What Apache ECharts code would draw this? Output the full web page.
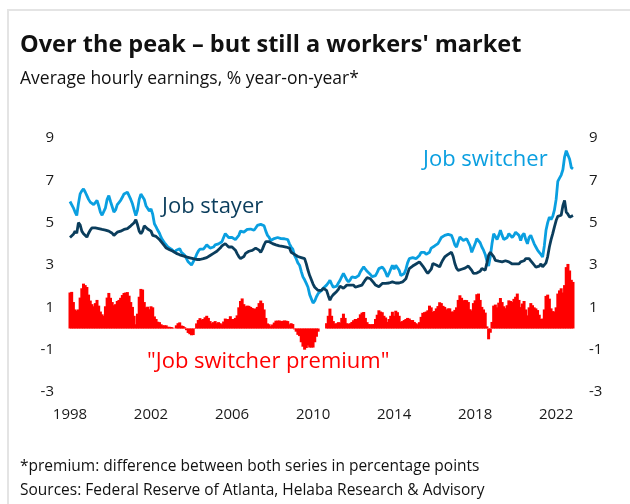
<!DOCTYPE html>
<html>
<head>
<meta charset="utf-8">
<script src="https://cdn.jsdelivr.net/npm/echarts@6/dist/echarts.min.js"></script>
<style>
  html, body { margin: 0; padding: 0; background: #fff; }
  #chart { width: 630px; height: 504px; }
</style>
</head>
<body>
<div id="chart"></div>
<script>
// monthly, Jan 1998 .. Nov 2022, % yoy (3m avg), one row per year
const switcher = [
  6.0, 6.05, 5.7, 5.5, 5.34, 5.9, 6.36, 6.5, 6.6, 6.45, 6.28, 6.1,
  5.97, 5.9, 5.85, 5.95, 6.05, 5.8, 5.5, 5.35, 5.26, 5.7, 6.1, 6.28,
  6.0, 5.75, 5.5, 5.6, 5.85, 5.95, 6.05, 6.2, 6.36, 6.4, 6.44, 6.35,
  6.1, 5.89, 5.6, 5.34, 5.6, 6.1, 6.35, 6.44, 6.1, 5.8, 5.73, 5.55,
  5.65, 5.4, 4.95, 4.8, 4.64, 4.5, 4.3, 4.16, 4.05, 3.95, 3.85, 3.8,
  3.75, 3.69, 3.6, 3.7, 3.75, 3.77, 3.6, 3.55, 3.46, 3.3, 3.15, 3.07,
  3.0, 2.99, 3.3, 3.5, 3.65, 3.75, 3.7, 3.75, 3.85, 3.95, 3.9, 3.8,
  3.75, 3.85, 3.95, 3.9, 4.0, 4.05, 4.1, 4.3, 4.48, 4.4, 4.3, 4.35,
  4.3, 4.25, 4.2, 4.16, 4.4, 4.6, 4.64, 4.55, 4.6, 4.68, 4.72, 4.7,
  4.66, 4.64, 4.75, 4.87, 4.9, 4.92, 4.95, 4.85, 4.6, 4.4, 4.3, 4.16,
  4.2, 4.25, 4.32, 4.3, 4.28, 4.25, 4.24, 4.24, 4.22, 4.2, 4.0, 3.85,
  3.75, 3.46, 3.3, 3.1, 2.99, 2.7, 2.44, 2.3, 2.13, 1.95, 1.6, 1.4,
  1.2, 1.3, 1.5, 1.65, 1.73, 1.8, 1.9, 1.97, 2.05, 2.15, 2.28, 2.1,
  1.95, 1.89, 2.0, 2.15, 2.28, 2.45, 2.6, 2.45, 2.3, 2.2, 2.3, 2.44,
  2.44, 2.4, 2.35, 2.5, 2.67, 2.8, 2.91, 2.8, 2.7, 2.65, 2.55, 2.45,
  2.36, 2.5, 2.65, 2.83, 2.85, 2.9, 2.8, 2.65, 2.44, 2.6, 2.8, 2.99,
  2.8, 2.99, 2.9, 2.75, 2.5, 2.55, 2.6, 2.8, 3.1, 3.3, 3.3, 3.35,
  3.3, 3.3, 3.3, 3.45, 3.6, 3.69, 3.6, 3.5, 3.46, 3.6, 3.8, 3.85,
  3.9, 3.95, 4.01, 4.15, 4.3, 4.32, 4.4, 4.35, 4.45, 4.5, 4.4, 4.2,
  3.95, 3.85, 4.1, 4.32, 4.25, 4.16, 4.2, 4.24, 4.2, 3.9, 3.6, 3.8,
  4.0, 4.24, 4.2, 4.05, 3.85, 3.7, 3.5, 3.2, 2.95, 3.4, 4.0, 4.48,
  4.35, 4.2, 4.4, 4.64, 4.4, 4.2, 4.16, 4.3, 4.48, 4.4, 4.3, 4.4,
  4.55, 4.64, 4.4, 4.16, 4.4, 4.5, 4.2, 4.0, 4.3, 4.4, 4.2, 4.0,
  3.85, 3.7, 3.6, 3.5, 3.38, 3.9, 4.64, 5.0, 5.26, 5.15, 5.3, 5.6,
  6.1, 6.95, 7.1, 7.25, 7.5, 8.1, 8.4, 8.45, 8.0, 7.6, 7.54
];
const stayer = [
  4.3, 4.32, 4.45, 4.6, 4.5, 5.0, 4.9, 4.6, 4.48, 4.4, 4.32, 4.5,
  4.65, 4.75, 4.8, 4.75, 4.7, 4.72, 4.7, 4.68, 4.66, 4.65, 4.64, 4.6,
  4.55, 4.5, 4.4, 4.45, 4.55, 4.6, 4.6, 4.62, 4.68, 4.7, 4.72, 4.8,
  4.85, 4.87, 5.0, 5.14, 4.9, 4.6, 4.48, 4.6, 4.85, 4.8, 4.7, 4.64,
  4.6, 4.4, 4.38, 4.35, 4.32, 4.2, 4.1, 4.01, 3.9, 3.8, 3.77, 3.72,
  3.68, 3.65, 3.6, 3.55, 3.5, 3.48, 3.46, 3.43, 3.4, 3.38, 3.36, 3.34,
  3.32, 3.3, 3.28, 3.26, 3.25, 3.26, 3.28, 3.3, 3.32, 3.35, 3.4, 3.45,
  3.5, 3.55, 3.6, 3.65, 3.7, 3.8, 3.9, 3.97, 4.01, 3.95, 3.85, 3.77,
  3.85, 3.8, 3.7, 3.54, 3.4, 3.3, 3.22, 3.4, 3.55, 3.6, 3.65, 3.68,
  3.69, 3.72, 3.8, 3.85, 3.7, 3.6, 3.75, 3.95, 4.1, 4.16, 4.1, 4.05,
  4.01, 3.97, 3.95, 3.93, 3.9, 3.9, 3.88, 3.86, 3.85, 3.85, 3.8, 3.6,
  3.54, 3.5, 3.45, 3.4, 3.35, 3.35, 3.3, 3.3, 3.05, 2.75, 2.5, 2.3,
  2.1, 1.95, 1.89, 1.8, 1.73, 1.8, 1.9, 1.97, 1.8, 1.55, 1.34, 1.5,
  1.6, 1.66, 1.75, 1.85, 2.0, 1.95, 1.9, 1.95, 2.05, 1.98, 2.05, 2.13,
  2.05, 1.95, 1.9, 2.0, 2.0, 2.05, 2.13, 2.3, 2.4, 2.44, 2.35, 2.25,
  2.15, 2.05, 2.0, 1.97, 2.05, 2.13, 2.2, 2.13, 2.13, 2.15, 2.2, 2.2,
  2.2, 2.15, 2.13, 2.15, 2.18, 2.2, 2.2, 2.35, 2.6, 2.83, 2.9, 2.95,
  2.99, 3.05, 3.1, 3.15, 3.05, 2.95, 2.83, 2.7, 2.6, 2.52, 2.8, 3.07,
  3.07, 3.0, 2.95, 2.91, 3.1, 3.25, 3.38, 3.45, 3.5, 3.55, 3.6, 3.4,
  3.07, 2.85, 2.75, 2.75, 2.8, 2.83, 2.85, 2.9, 2.95, 2.99, 2.75, 2.6,
  2.67, 2.62, 2.55, 2.7, 2.83, 2.8, 2.75, 3.1, 3.46, 3.6, 3.69, 3.4,
  3.22, 3.2, 3.18, 3.2, 3.15, 3.15, 3.2, 3.2, 3.15, 3.1, 3.05, 3.0,
  3.05, 2.99, 3.05, 3.15, 3.22, 3.2, 3.3, 3.38, 3.3, 3.2, 3.1, 3.0,
  2.9, 2.83, 2.95, 3.05, 2.91, 3.0, 3.1, 3.4, 3.85, 4.2, 4.48, 4.8,
  5.1, 5.3, 5.3, 5.35, 5.8, 6.05, 5.5, 5.4, 5.26, 5.3, 5.34
];
const startYear = 1998;
const yearLabels = ['1998', '2002', '2006', '2010', '2014', '2018', '2022'];
const yTicks = [-3, -1, 1, 3, 5, 7, 9];

// month categories
const months = [];
for (let i = 0; i < switcher.length; i++) {
  const y = startYear + Math.floor(i / 12);
  const m = (i % 12) + 1;
  months.push(y + '-' + (m < 10 ? '0' + m : m));
}
// premium = switcher minus stayer (percentage points)
const premium = switcher.map((v, i) => +(v - stayer[i]).toFixed(2));

const FONT = 'Open Sans';
const DARK = '#0b3d5c';
const LIGHT = '#0a9fe0';
const RED = '#ff0000';

const chart = echarts.init(document.getElementById('chart'), null, { renderer: 'canvas' });

const yAxisCommon = {
  type: 'value',
  min: yTicks[0],
  max: yTicks[yTicks.length - 1],
  interval: 2,
  splitLine: { show: false },
  axisLine: { show: false },
  axisTick: { show: false },
  axisLabel: { color: '#1a1a1a', fontSize: 15, fontFamily: FONT, margin: 16 }
};

chart.setOption({
  animation: false,
  backgroundColor: '#fff',
  grid: { left: 70, right: 57, top: 138, bottom: 112 },
  xAxis: {
    type: 'category',
    data: months,
    boundaryGap: false,
    axisLine: { show: false },
    axisTick: { show: false },
    splitLine: { show: false },
    axisLabel: {
      color: '#1a1a1a', fontSize: 15, fontFamily: FONT, margin: 15,
      interval: (idx, val) => yearLabels.indexOf(val.slice(0, 4)) >= 0 && val.slice(5) === '01',
      formatter: val => val.slice(0, 4)
    }
  },
  yAxis: [
    Object.assign({ position: 'left' }, yAxisCommon),
    Object.assign({ position: 'right' }, yAxisCommon)
  ],
  series: [
    {
      name: 'Job switcher premium', type: 'bar', data: premium,
      barWidth: 3, itemStyle: { color: RED }, silent: true
    },
    {
      name: 'Job switcher', type: 'line', data: switcher,
      showSymbol: false, lineStyle: { color: LIGHT, width: 2.8 }, z: 3
    },
    {
      name: 'Job stayer', type: 'line', data: stayer,
      showSymbol: false, lineStyle: { color: DARK, width: 2.8 }, z: 4
    }
  ],
  graphic: [
    { type: 'rect', shape: { x: 8, y: 10, width: 700, height: 600 },
      style: { fill: null, stroke: '#e4e4e4', lineWidth: 2 }, silent: true },
    { type: 'text', x: 20, y: 45, style: { text: "Over the peak \u2013 but still a workers' market",
      font: 'bold 23.5px "' + FONT + '"', fill: '#111', verticalAlign: 'middle' } },
    { type: 'text', x: 20, y: 79, style: { text: 'Average hourly earnings, % year-on-year*',
      font: '17.5px "' + FONT + '"', fill: '#111', verticalAlign: 'middle' } },
    { type: 'text', x: 162, y: 207, style: { text: 'Job stayer',
      font: '22px "' + FONT + '"', fill: DARK, verticalAlign: 'middle' } },
    { type: 'text', x: 423, y: 160, style: { text: 'Job switcher',
      font: '22px "' + FONT + '"', fill: LIGHT, verticalAlign: 'middle' } },
    { type: 'text', x: 147, y: 362, style: { text: '"Job switcher premium"',
      font: '22px "' + FONT + '"', fill: RED, verticalAlign: 'middle' } },
    { type: 'text', x: 20, y: 467, style: { text: '*premium: difference between both series in percentage points',
      font: '15.5px "' + FONT + '"', fill: '#111', verticalAlign: 'middle' } },
    { type: 'text', x: 20, y: 491, style: { text: 'Sources: Federal Reserve of Atlanta, Helaba Research & Advisory',
      font: '15.5px "' + FONT + '"', fill: '#111', verticalAlign: 'middle' } }
  ]
});
</script>
</body>
</html>
